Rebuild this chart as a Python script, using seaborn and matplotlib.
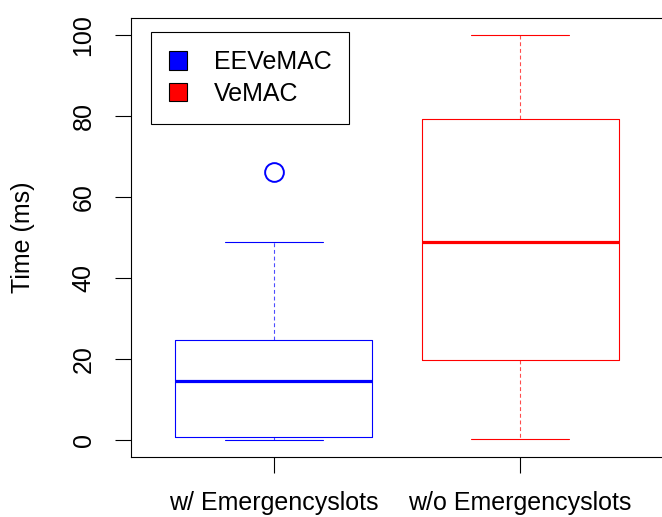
import matplotlib
matplotlib.use("Agg")
import matplotlib.pyplot as plt
import seaborn as sns
from matplotlib.patches import Patch

# five-number summaries
groups = ["w/ Emergencyslots", "w/o Emergencyslots"]
protocols = ["EEVeMAC", "VeMAC"]
colors = ["blue", "red"]
whisker_low = [0.0, 0.4]
q1 = [0.8, 19.7]
median = [14.6, 48.8]
q3 = [24.6, 79.1]
whisker_high = [48.8, 100.0]
outliers = [[66.1], []]
yticks = [0, 20, 40, 60, 80, 100]

sns.set_theme(style="white")
plt.rcParams["font.family"] = ["Liberation Sans", "DejaVu Sans"]
plt.rcParams["text.color"] = "black"
plt.rcParams["axes.labelcolor"] = "black"
fs = 18

fig = plt.figure(figsize=(6.62, 5.17), dpi=100)
ax = fig.add_axes([131 / 662, 1 - 456.5 / 517, 532 / 662, 438.1 / 517])

stats = []
for i, g in enumerate(groups):
    stats.append(dict(label=g, whislo=whisker_low[i], q1=q1[i], med=median[i],
                      q3=q3[i], whishi=whisker_high[i], fliers=outliers[i]))

art = ax.bxp(stats, positions=[1, 2], widths=0.8, capwidths=0.4,
             showfliers=True, manage_ticks=False)

for i, c in enumerate(colors):
    art["boxes"][i].set(color=c, linewidth=0.8)
    art["medians"][i].set(color=c, linewidth=2.3, solid_capstyle="butt")
    for w in art["whiskers"][2 * i:2 * i + 2]:
        w.set(color=c, linewidth=0.8, linestyle=(0, (3.5, 2.5)), alpha=0.7)
    for cap in art["caps"][2 * i:2 * i + 2]:
        cap.set(color=c, linewidth=0.8)
    art["fliers"][i].set(marker="o", markerfacecolor="none", markeredgecolor=c,
                         markersize=13.5, markeredgewidth=1.4)

ax.set_xlim(0.42, 2.58)
ax.set_ylim(-4, 104)
ax.set_xticks([1, 2])
ax.set_xticklabels(groups, fontsize=fs)
ax.set_yticks(yticks)
ax.set_yticklabels([str(t) for t in yticks], fontsize=fs, rotation=90, va="center")
ax.tick_params(axis="both", direction="out", length=11.5, width=0.8, color="black",
               left=True, bottom=True, labelcolor="black")
ax.tick_params(axis="x", pad=13)
ax.tick_params(axis="y", pad=14)
for s in ax.spines.values():
    s.set_color("black")
    s.set_linewidth(0.8)

fig.text(23 / 662, 1 - 237.5 / 517, "Time (ms)", rotation=90, ha="center",
         va="center", fontsize=fs)

handles = [Patch(facecolor=c, edgecolor="black", linewidth=0.8) for c in colors]
leg = ax.legend(handles, protocols, loc="upper left",
                bbox_to_anchor=(150.7 / 662, 1 - 32.3 / 517),
                bbox_transform=fig.transFigure, borderaxespad=0,
                fontsize=fs, handlelength=0.75, handleheight=0.75,
                handletextpad=1.05, labelspacing=0.3, borderpad=0.72,
                fancybox=False, framealpha=1, labelcolor="black")
leg.get_frame().set_edgecolor("black")
leg.get_frame().set_linewidth(0.8)

fig.savefig("out.png", dpi=100)
